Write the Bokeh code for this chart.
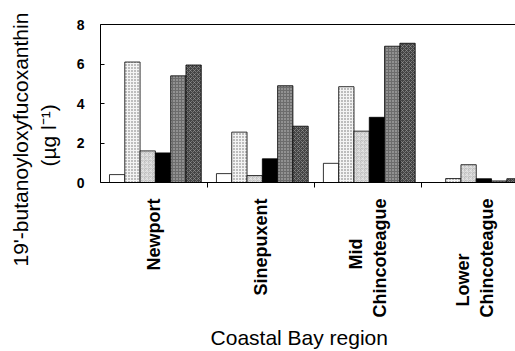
import math
from bokeh.plotting import figure
from bokeh.layouts import row
from bokeh.models import Range1d, FixedTicker, LinearAxis, ColumnDataSource, Title
from bokeh.embed import file_html
from bokeh.resources import INLINE

# ---- data ----
regions = ["Newport", "Sinepuxent", "Mid\nChincoteague", "Lower\nChincoteague"]
series_1 = [0.40, 0.45, 0.97, 0.00]
series_2 = [6.10, 2.55, 4.85, 0.20]
series_3 = [1.60, 0.35, 2.60, 0.90]
series_4 = [1.50, 1.20, 3.30, 0.19]
series_5 = [5.40, 4.90, 6.90, 0.08]
series_6 = [5.95, 2.85, 7.05, 0.19]
y_ticks = [0, 2, 4, 6, 8]
y_title_lines = ["19'-butanoyloxyfucoxanthin", "(µg l⁻¹)"]
x_title = "Coastal Bay region"

all_series = [series_1, series_2, series_3, series_4, series_5, series_6]

styles = [
    dict(fill_color="white"),
    dict(fill_color="#f4f4f4", hatch_pattern="dot", hatch_color="#6a6a6a", hatch_scale=3, hatch_weight=0.8),
    dict(fill_color="#bdbdbd", hatch_pattern="criss_cross", hatch_color="#ececec", hatch_scale=4, hatch_weight=0.6),
    dict(fill_color="black"),
    dict(fill_color="#6c6c6c", hatch_pattern="dot", hatch_color="#c8c8c8", hatch_scale=3, hatch_weight=0.8),
    dict(fill_color="#444444", hatch_pattern="diagonal_cross", hatch_color="#9a9a9a", hatch_scale=4, hatch_weight=0.6),
]

FONT = "Liberation Sans"
NB = "\u00a0"
SIDE_W = 64
W, H = 515, 351
TOP, BOTTOM = 24, 169


def pad_lines(label, pads):
    # pad lines with no-break spaces so that shorter lines sit centred
    return "\n".join(line + NB * n for line, n in zip(label.split("\n"), pads))


p = figure(width=W - SIDE_W, height=H,
           x_range=Range1d(0, 3.88), y_range=Range1d(0, 8),
           output_backend="svg", toolbar_location=None,
           min_border_left=100 - SIDE_W, min_border_right=0,
           min_border_top=TOP, min_border_bottom=BOTTOM)
p.outline_line_color = None
p.grid.visible = False
p.background_fill_color = "white"

bar_w = 0.143
start = 0.084
n_groups = len(regions)
for k, (vals, st) in enumerate(zip(all_series, styles)):
    xs = [g + start + bar_w * (k + 0.5) for g in range(n_groups)]
    src = ColumnDataSource(dict(x=xs, top=vals))
    p.vbar(x="x", top="top", bottom=0, width=bar_w, source=src,
           line_color="black", line_width=0.8, **st)

# x axis
xa = p.xaxis[0]
centers = [g + 0.5 for g in range(n_groups)]
label_pads = [[0], [0], [8, 0], [11, 0]]
xa.ticker = FixedTicker(ticks=centers, minor_ticks=[1, 2, 3])
xa.major_label_overrides = {c: pad_lines(r, pd) for c, r, pd in zip(centers, regions, label_pads)}
xa.major_label_orientation = math.pi / 2
xa.major_tick_in = 0
xa.major_tick_out = 0
xa.minor_tick_in = 0
xa.minor_tick_out = 5
xa.minor_tick_line_color = "black"
xa.major_label_standoff = 11
xa.major_label_text_font = FONT
xa.major_label_text_font_size = "18px"
xa.major_label_text_font_style = "bold"
xa.major_label_text_color = "black"
xa.axis_line_color = "black"
xa.axis_label = x_title + NB * 3
xa.axis_label_text_font = FONT
xa.axis_label_text_font_size = "21px"
xa.axis_label_text_font_style = "normal"
xa.axis_label_text_color = "black"
xa.axis_label_standoff = 5

# y axis
ya = p.yaxis[0]
ya.ticker = FixedTicker(ticks=y_ticks)
ya.major_tick_in = 4
ya.major_tick_out = 0
ya.minor_tick_in = 0
ya.minor_tick_out = 0
ya.major_label_standoff = 16
ya.major_label_text_font = FONT
ya.major_label_text_font_size = "14px"
ya.major_label_text_font_style = "bold"
ya.major_label_text_color = "black"
ya.axis_line_color = "black"

# top frame line
top = LinearAxis(ticker=FixedTicker(ticks=[]), major_tick_in=0, major_tick_out=0,
                 minor_tick_in=0, minor_tick_out=0, axis_line_color="black")
p.add_layout(top, "above")

# narrow side figure whose left border carries the two-line y-axis title
side = figure(width=SIDE_W, height=H, x_range=Range1d(0, 1), y_range=Range1d(0, 1),
              output_backend="svg", toolbar_location=None,
              min_border_left=62, min_border_right=0,
              min_border_top=TOP, min_border_bottom=BOTTOM,
              x_axis_type=None, y_axis_type=None)
side.outline_line_color = None
side.grid.visible = False
# nearest to the frame first
for text, offset in [(y_title_lines[1], 16), (y_title_lines[0], -84)]:
    side.add_layout(Title(text=text, align="left", offset=offset, vertical_align="middle",
                          standoff=3, text_font=FONT, text_font_size="21px",
                          text_font_style="normal", text_color="black"), "left")

layout = row(side, p)
open("out.html", "w").write(file_html(layout, INLINE))
